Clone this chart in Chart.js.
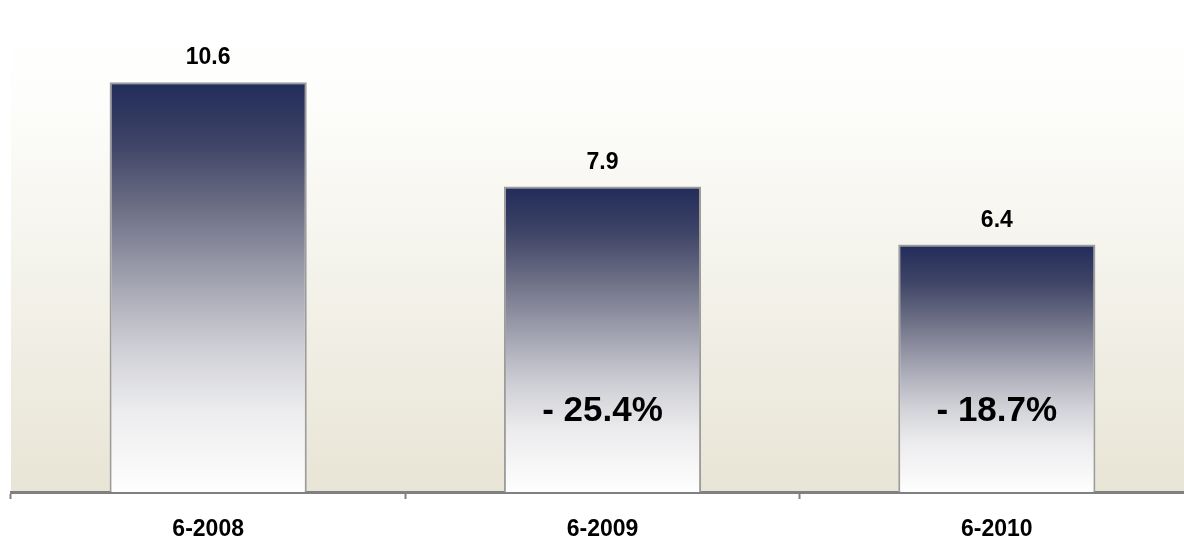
<!DOCTYPE html>
<html>
<head>
<meta charset="utf-8">
<script src="https://cdn.jsdelivr.net/npm/chart.js@4/dist/chart.umd.min.js"></script>
<style>
  html, body { margin: 0; padding: 0; background: #ffffff; overflow: hidden; }
  #wrap { width: 1184px; height: 538px; position: relative; overflow: hidden; }
  #c { position: absolute; left: 0; top: 0; }
</style>
</head>
<body>
<div id="wrap"><canvas id="c" width="1194" height="538"></canvas></div>
<script>
const categories = ["6-2008", "6-2009", "6-2010"];
const values = [10.6, 7.9, 6.4];
const valueLabels = ["10.6", "7.9", "6.4"];
const changeLabels = ["", "- 25.4%", "- 18.7%"];
const changeLabelLevel = 2.08;
const yMax = 12;

function barGradient(ctx) {
  const chart = ctx.chart;
  if (!chart.chartArea || ctx.raw === undefined) return "#232c5a";
  const y = chart.scales.y;
  const top = y.getPixelForValue(ctx.raw);
  const bottom = y.getPixelForValue(0);
  const g = chart.ctx.createLinearGradient(0, top, 0, bottom);
  g.addColorStop(0, "#222c5a");
  g.addColorStop(0.15, "#3e4466");
  g.addColorStop(0.3, "#6b6d84");
  g.addColorStop(0.5, "#a6a7b4");
  g.addColorStop(0.65, "#cfd0d6");
  g.addColorStop(0.8, "#ececee");
  g.addColorStop(1, "#fefefe");
  return g;
}

const bgPlugin = {
  id: "plotBg",
  beforeDraw(chart) {
    const { ctx, chartArea } = chart;
    const g = ctx.createLinearGradient(0, chartArea.top, 0, chartArea.bottom);
    g.addColorStop(0, "#ffffff");
    g.addColorStop(0.15, "#fdfdfb");
    g.addColorStop(1, "#e8e5d6");
    ctx.save();
    ctx.fillStyle = g;
    ctx.fillRect(chartArea.left, chartArea.top, chartArea.right - chartArea.left, chartArea.bottom - chartArea.top);
    ctx.restore();
  }
};

const labelPlugin = {
  id: "barLabels",
  afterDatasetsDraw(chart) {
    const { ctx } = chart;
    const meta = chart.getDatasetMeta(0);
    const y = chart.scales.y;
    ctx.save();
    ctx.fillStyle = "#000000";
    ctx.textAlign = "center";
    ctx.textBaseline = "middle";
    meta.data.forEach((bar, i) => {
      ctx.font = "bold 23px 'Liberation Sans', Arial, sans-serif";
      ctx.fillText(valueLabels[i], bar.x, bar.y - 24);
      if (changeLabels[i]) {
        ctx.font = "bold 35px 'Liberation Sans', Arial, sans-serif";
        ctx.fillText(changeLabels[i], bar.x, y.getPixelForValue(changeLabelLevel));
      }
    });
    ctx.restore();
  }
};

new Chart(document.getElementById("c"), {
  type: "bar",
  data: {
    labels: categories,
    datasets: [{
      data: values,
      backgroundColor: barGradient,
      borderColor: "#9c9c9c",
      borderWidth: 2,
      borderSkipped: "bottom",
      categoryPercentage: 0.5,
      barPercentage: 1.0
    }]
  },
  options: {
    responsive: false,
    animation: false,
    layout: { padding: { left: 11, right: 0, top: 28, bottom: 0 } },
    plugins: { legend: { display: false }, tooltip: { enabled: false } },
    scales: {
      y: {
        display: false,
        min: 0,
        max: yMax
      },
      x: {
        afterFit(scale) { scale.height = 46; },
        grid: {
          drawOnChartArea: false,
          drawTicks: true,
          tickLength: 7,
          tickColor: "#808080",
          tickWidth: 2,
          offset: true
        },
        border: { display: true, color: "#808080", width: 3 },
        ticks: {
          color: "#000000",
          padding: 17,
          font: { family: "'Liberation Sans', Arial, sans-serif", size: 23, weight: "bold" }
        }
      }
    }
  },
  plugins: [bgPlugin, labelPlugin]
});
</script>
</body>
</html>
